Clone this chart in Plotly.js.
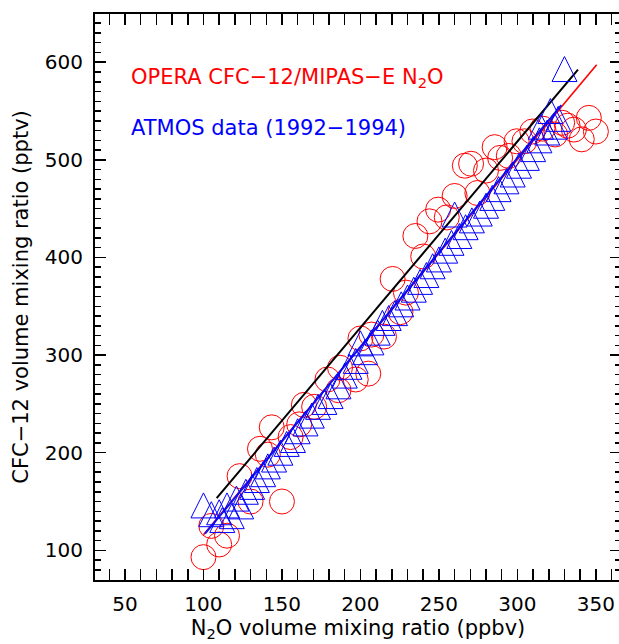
<!DOCTYPE html>
<html><head><meta charset="utf-8">
<script src="https://cdn.plot.ly/plotly-3.0.1.min.js"></script>
<style>html,body{margin:0;padding:0;overflow:hidden;background:#fff}</style>
</head><body><div id="chart" style="width:621px;height:644px"></div>
<script>
// OPERA CFC-12 / MIPAS-E N2O (red circles)
const operaN2O = [100,110,115,105,130,150,123,136,141,143.5,155.5,161,164,170.5,179,186,187,197,205,200,207,215,225.5,229,220.5,240,235,244,249.5,255,260,274.5,266.5,270.5,280,285.5,289,294.5,299.5,304.5,309.5,316,324,332,328.5,336,341,345.5,350];
const operaCFC = [93,106,115,125,150,150,176,204,198,226,216,229,249,247,275,264,287,275,281,317,321,319,344,364,378,401,422,437,449,441,463,466,494,496,489,513,502,504,519,519,529,532,526,535,538,531,521,543,529];
// ATMOS data 1992-1994 (blue triangles)
const atmosN2O = [100,105,110,112,115,118,121,124,127,131,134,138,141,145,149,153,157,160,165,169,173,177,181,186,190,193,197,200,203,207,211,214,218,222,226,230,234,238,242,246,250,254,258,260,263,267,271,276,280,284,288,293,297,301,306,310,314,315,319,321,324,326,330];
const atmosCFC = [146,137,139,131,146,135,153,145,160,165,172,178,186,193,200,209,213,222,230,238,247,252,258,268,279,288,294,312,303,313,323,333,338,343,352,359,367,375,382,391,398,407,415,444,422,431,438,445,453,461,470,478,485,494,502,511,520,534,528,550,534,542,593];
// fitted lines (end points)
const fitBlackN2O = [108.4, 338.6];
const fitBlackCFC = [153.5, 592.4];
const fitRedN2O = [100, 350.5];
const fitRedCFC = [116, 597.5];
const fitBlueN2O = [101, 328];
const fitBlueCFC = [117, 556];
const xTicks = [50,100,150,200,250,300,350];
const yTicks = [100,200,300,400,500,600];
const label1 = 'OPERA CFC\u221212/MIPAS\u2212E N<sub>2</sub>O';
const label2 = 'ATMOS data (1992\u22121994)';
const xTitle = 'N<sub>2</sub>O volume mixing ratio (ppbv)';
const yTitle = 'CFC\u221212 volume mixing ratio (pptv)';

const FONT = 'DejaVu Sans, sans-serif';
const yLo = 69.6, yHi = 649.4;
// triangle apex offset: half of 25px marker height in data units
const triShift = 12.5 / (566 / (yHi - yLo));

const traces = [
  {x: operaN2O, y: operaCFC, mode: 'markers', type: 'scatter',
   marker: {symbol: 'circle-open', size: 25, color: 'rgb(255,0,0)', line: {width: 1, color: 'rgb(255,0,0)'}}},
  {x: atmosN2O, y: atmosCFC, yaxis: 'y2', mode: 'markers', type: 'scatter',
   marker: {symbol: 'arrow-up-open', size: 25, color: 'rgb(0,0,255)', line: {width: 1, color: 'rgb(0,0,255)'}}},
  {x: fitBlackN2O, y: fitBlackCFC, mode: 'lines', type: 'scatter', line: {color: 'black', width: 2}},
  {x: fitRedN2O, y: fitRedCFC, mode: 'lines', type: 'scatter', line: {color: 'rgb(255,0,0)', width: 1.6}},
  {x: fitBlueN2O, y: fitBlueCFC, mode: 'lines', type: 'scatter', line: {color: 'rgb(20,20,240)', width: 2}}
];

const axisCommon = {
  ticks: 'inside', ticklen: 11, tickwidth: 1.5, tickcolor: 'black',
  showline: true, linewidth: 2, linecolor: 'black', mirror: 'allticks',
  showgrid: false, zeroline: false,
  tickfont: {family: FONT, size: 20, color: 'black'}
};

const layout = {
  width: 621, height: 644,
  margin: {l: 95, r: 0, t: 14, b: 64},
  paper_bgcolor: 'white', plot_bgcolor: 'white',
  showlegend: false,
  xaxis: Object.assign({}, axisCommon, {
    range: [30.9, 366], tickvals: xTicks, ticklabelstandoff: 5,
    minor: {dtick: 10, tick0: 0, ticks: 'inside', ticklen: 6, tickwidth: 1.5, tickcolor: 'black'},
    title: {text: xTitle, font: {family: FONT, size: 21, color: 'black'}, standoff: 3}
  }),
  yaxis: Object.assign({}, axisCommon, {
    range: [yLo, yHi], tickvals: yTicks, ticklabelstandoff: 6,
    minor: {dtick: 10, tick0: 0, ticks: 'inside', ticklen: 6, tickwidth: 1.5, tickcolor: 'black'},
    title: {text: yTitle, font: {family: FONT, size: 21, color: 'black'}, standoff: 10}
  }),
  yaxis2: {overlaying: 'y', range: [yLo - triShift, yHi - triShift], visible: false, showgrid: false, zeroline: false},
  annotations: [
    {xref: 'paper', yref: 'paper', x: 0.065, y: 0.887, xanchor: 'left', yanchor: 'middle', showarrow: false,
     text: label1, font: {family: FONT, size: 21, color: 'rgb(255,0,0)'}},
    {xref: 'paper', yref: 'paper', x: 0.065, y: 0.799, xanchor: 'left', yanchor: 'middle', showarrow: false,
     text: label2, font: {family: FONT, size: 21, color: 'rgb(0,0,255)'}}
  ]
};

Plotly.newPlot('chart', traces, layout, {displayModeBar: false, staticPlot: true});
</script></body></html>
